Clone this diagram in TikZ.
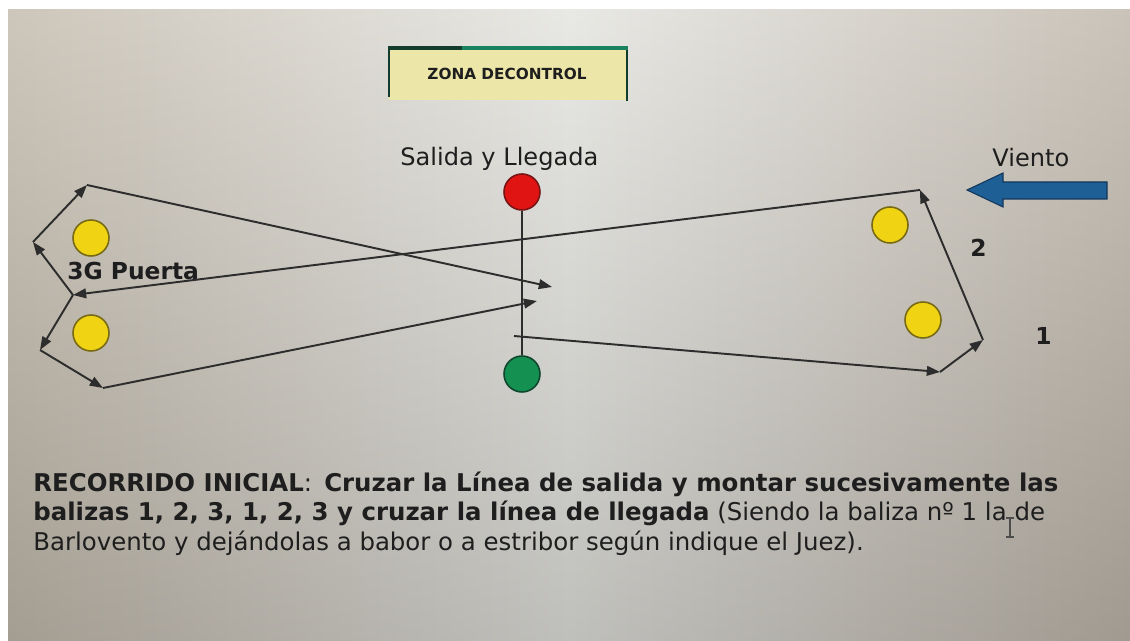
\documentclass[tikz,border=0pt]{standalone}
\usepackage{fontspec}
\setmainfont{DejaVu Sans}
\usetikzlibrary{arrows.meta}
\definecolor{bgL}{RGB}{196,188,174}
\definecolor{bgM}{RGB}{228,228,224}
\definecolor{bgR}{RGB}{192,184,172}
\definecolor{ink}{RGB}{45,45,45}
\definecolor{txt}{RGB}{30,30,30}
\definecolor{buoyY}{RGB}{240,212,20}
\definecolor{buoyYd}{RGB}{120,105,20}
\definecolor{buoyR}{RGB}{225,20,20}
\definecolor{buoyRd}{RGB}{120,20,20}
\definecolor{buoyG}{RGB}{20,145,80}
\definecolor{buoyGd}{RGB}{15,70,45}
\definecolor{windB}{RGB}{30,95,150}
\definecolor{windBd}{RGB}{20,55,90}
\definecolor{zonaF}{RGB}{236,230,168}
\definecolor{zonaD}{RGB}{20,60,45}
\definecolor{zonaT}{RGB}{25,130,95}
\begin{document}
\begin{tikzpicture}[x=0.02cm,y=-0.02cm,
  buoy/.style={circle,draw,line width=0.9pt,minimum size=36*0.02cm,inner sep=0pt},
  yellowbuoy/.style={buoy,fill=buoyY,draw=buoyYd},
  leg/.style={draw=ink,line width=1.1pt,-{Triangle[length=7.5pt,width=5.5pt]}},
  lbl/.style={inner sep=0pt,anchor=base west,text=txt},
  ]
\useasboundingbox (0,0) rectangle (1130,641);
\fill[white] (0,0) rectangle (1130,641);
\shade[left color=bgL,right color=bgR,middle color=bgM] (8,10) rectangle (1130,641);
\shade[top color=white,bottom color=black,opacity=0.16] (8,10) rectangle (1130,641);
% zona de control
\fill[zonaF] (389,48) rectangle (627,100);
\draw[zonaD,line width=1.3pt] (389,97) -- (389,48);
\draw[zonaD,line width=1.3pt] (627,101) -- (627,48);
\draw[zonaD,line width=2.4pt] (388,48) -- (462,48);
\draw[zonaT,line width=2.4pt] (462,48) -- (628,48);
\node[inner sep=0pt,text=txt,font=\bfseries\fontsize{8.7}{10}\selectfont] (zona) at (507,74) {ZONA DECONTROL};
% labels
\node[lbl,font=\fontsize{13.7}{16}\selectfont] (salida) at (400,166) {Salida y Llegada};
\node[lbl,font=\fontsize{13.7}{16}\selectfont] (viento) at (992,167) {Viento};
\node[lbl,font=\bfseries\fontsize{13.3}{16}\selectfont] (puerta) at (67,280) {3G Puerta};
\node[lbl,font=\bfseries\fontsize{13.3}{16}\selectfont] (n2) at (970,257) {2};
\node[lbl,font=\bfseries\fontsize{13.3}{16}\selectfont] (n1) at (1035,345) {1};
% wind arrow
\filldraw[fill=windB,draw=windBd,line width=0.6pt] (967,190) -- (1003,173) -- (1003,182) -- (1107,182) -- (1107,199) -- (1003,199) -- (1003,207) -- cycle;
% buoys
\node[yellowbuoy] (y1) at (91,238) {};
\node[yellowbuoy] (y2) at (91,333) {};
\node[yellowbuoy] (y3) at (890,225) {};
\node[yellowbuoy] (y4) at (923,320) {};
\node[buoy,fill=buoyR,draw=buoyRd] (red) at (522,192) {};
\node[buoy,fill=buoyG,draw=buoyGd] (green) at (522,374) {};
\draw[ink,line width=1.1pt] (red.south) -- (green.north);
% course vertices
\coordinate (s) at (514,336);
\coordinate (b1) at (940,372);
\coordinate (r1) at (983,340);
\coordinate (r2) at (920,190);
\coordinate (g) at (73,295);
\coordinate (ll) at (40,350);
\coordinate (lb) at (103,388);
\coordinate (m1) at (537,301);
\coordinate (lt) at (33,242);
\coordinate (tl) at (87,185);
\coordinate (m2) at (552,287);
\draw[leg] (s) -- (b1);
\draw[leg] (b1) -- (r1);
\draw[leg] (r1) -- (r2);
\draw[leg] (r2) -- (g);
\draw[leg] (g) -- (ll);
\draw[leg] (ll) -- (lb);
\draw[leg] (lb) -- (m1);
\draw[leg] (g) -- (lt);
\draw[leg] (lt) -- (tl);
\draw[leg] (tl) -- (m2);
% text
\node[lbl,font=\fontsize{13.9}{16}\selectfont] (t1) at (33,492) {\textbf{RECORRIDO INICIAL}:\enspace\textbf{Cruzar la Línea de salida y montar sucesivamente las}};
\node[lbl,font=\fontsize{13.9}{16}\selectfont] (t2) at (33,521) {\textbf{balizas 1, 2, 3, 1, 2, 3 y cruzar la línea de llegada} (Siendo la baliza nº 1 la de};
\node[lbl,font=\fontsize{13.9}{16}\selectfont] (t3) at (33,551) {Barlovento y dejándolas a babor o a estribor según indique el Juez).};
% text cursor
\draw[gray!60!black,line width=0.7pt] (1010,519) -- (1010,536) (1006,518) -- (1014,518) (1006,537) -- (1014,537);
\end{tikzpicture}
\end{document}
